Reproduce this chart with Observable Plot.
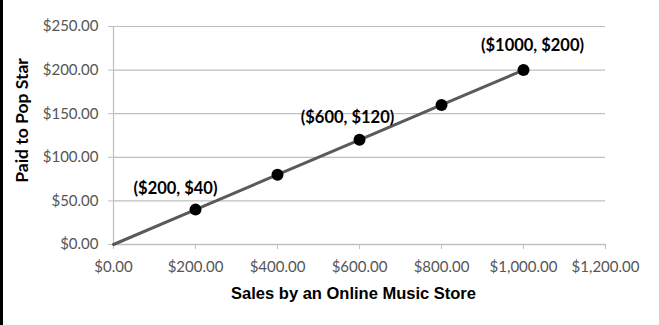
<!DOCTYPE html>
<html>
<head>
<meta charset="utf-8">
<script src="https://cdn.jsdelivr.net/npm/d3@7"></script>
<script src="https://cdn.jsdelivr.net/npm/@observablehq/plot@0.6"></script>
<style>
  html, body { margin: 0; padding: 0; background: #fff; }
  #wrap { position: relative; width: 659px; height: 325px; }
  #bar { position: absolute; left: 0; top: 0; width: 3px; height: 325px; background: #000; }
</style>
</head>
<body>
<div id="wrap"><div id="bar"></div><div id="chart"></div></div>
<script>
const sales = [0, 200, 400, 600, 800, 1000];
const paid = [0, 40, 80, 120, 160, 200];
const labels = ["($200, $40)", "($600, $120)", "($1000, $200)"];
const xTicks = [0, 200, 400, 600, 800, 1000, 1200];
const yTicks = [0, 50, 100, 150, 200, 250];
const xTitle = "Sales by an Online Music Store";
const yTitle = "Paid to Pop Star";

const pts = sales.map((s, i) => ({x: s, y: paid[i]}));
const dotPts = pts.filter(d => d.x > 0);
const lab = (i) => [{x: sales[i], y: paid[i], t: labels[[1,3,5].indexOf(i)]}];
const fmt = d3.format("$,.2f");
const tickFont = "Lato, 'Open Sans', sans-serif";
const labFont = {fontFamily: "Lato, 'Open Sans', sans-serif", fontWeight: "bold", fontSize: 16.5, fill: "#000"};

const chart = Plot.plot({
  width: 659,
  height: 325,
  marginLeft: 113,
  marginRight: 54,
  marginTop: 26,
  marginBottom: 81,
  style: {background: "transparent", fontFamily: tickFont, fontSize: "15px", color: "#595959", overflow: "visible"},
  x: {domain: [0, 1200]},
  y: {domain: [0, 250]},
  marks: [
    Plot.gridY(yTicks, {stroke: "#bfbfbf", strokeOpacity: 1, strokeWidth: 1.2}),
    Plot.ruleX([0], {stroke: "#bfbfbf", strokeWidth: 1.2}),
    Plot.ruleY([0], {stroke: "#bfbfbf", strokeWidth: 1.5}),
    Plot.axisY({ticks: yTicks, tickFormat: fmt, tickSize: 5, tickPadding: 10, stroke: "#bfbfbf", label: null, fill: "#555", fontSize: 15, fontFamily: tickFont}),
    Plot.axisX({ticks: xTicks, tickFormat: fmt, tickSize: 5, tickPadding: 12, stroke: "#bfbfbf", label: null, fill: "#555", fontSize: 15, fontFamily: tickFont}),
    Plot.line(pts, {x: "x", y: "y", stroke: "#5a5a5a", strokeWidth: 3}),
    Plot.dot(dotPts, {x: "x", y: "y", r: 6, fill: "#000", stroke: "none"}),
    Plot.text(lab(1), {x: "x", y: "y", text: "t", dx: -20, dy: -21, ...labFont}),
    Plot.text(lab(3), {x: "x", y: "y", text: "t", dx: -12, dy: -22, ...labFont}),
    Plot.text(lab(5), {x: "x", y: "y", text: "t", dx: 9, dy: -24, ...labFont}),
    Plot.text([xTitle], {frameAnchor: "bottom", dx: -6, dy: 54, fontFamily: "'Liberation Sans', Arial, sans-serif", fontWeight: "bold", fontSize: 16.5, fill: "#000"}),
    Plot.text([yTitle], {frameAnchor: "left", textAnchor: "middle", rotate: -90, dx: -91, dy: -15, ...labFont, fontSize: 17.5})
  ]
});
document.getElementById("chart").appendChild(chart);
</script>
</body>
</html>
